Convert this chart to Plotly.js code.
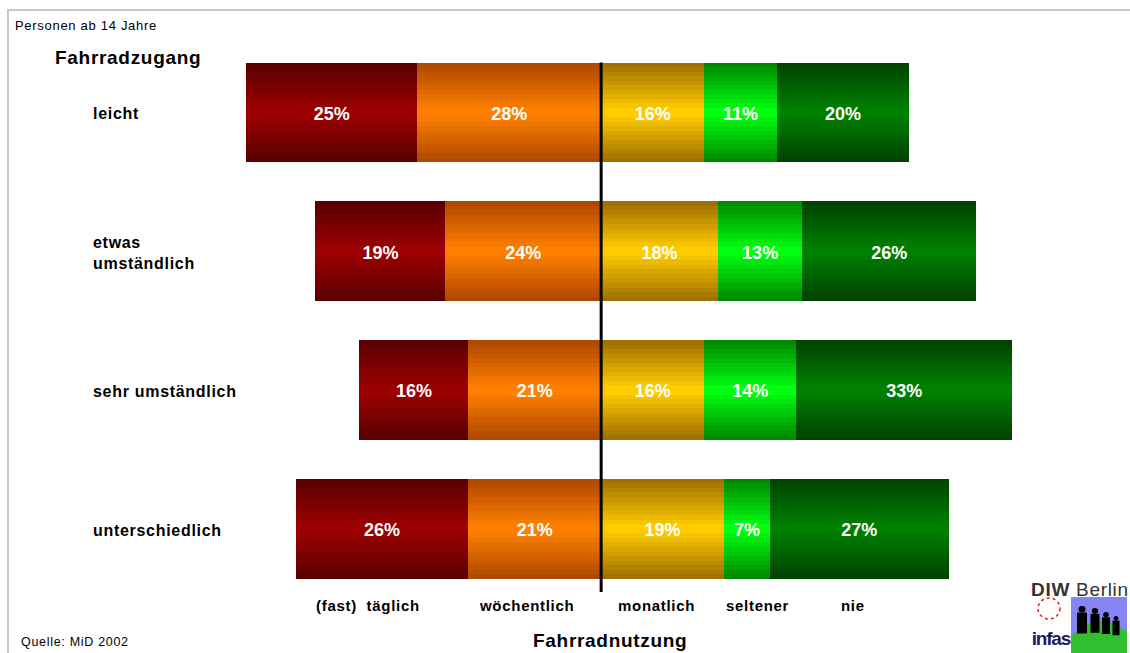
<!DOCTYPE html>
<html>
<head>
<meta charset="utf-8">
<script src="https://cdn.plot.ly/plotly-3.0.1.min.js"></script>
<style>
  html, body { margin: 0; padding: 0; background: #fff; }
  #chart { width: 1130px; height: 653px; }
  .annotation-text { letter-spacing: 0.7px; }
  g.annotation[data-index="14"] .annotation-text { letter-spacing: -1.2px; }
</style>
</head>
<body>
<div id="chart"></div>
<script>
// ---------------- data ----------------
const categories = ['leicht', 'etwas<br>umständlich', 'sehr umständlich', 'unterschiedlich'];
const seriesNames = ['(fast)  täglich', 'wöchentlich', 'monatlich', 'seltener', 'nie'];

// bar lengths (percent)
const taeglich     = [26.0, 19.8, 16.6, 26.3];
const woechentlich = [28.0, 23.7, 20.2, 20.2];
const monatlich    = [15.7, 17.8, 15.7, 18.7];
const seltener     = [11.0, 12.8, 14.0, 7.0];
const nie          = [20.2, 26.5, 32.9, 27.2];

// printed labels (percent)
const taeglichLabels     = [25, 19, 16, 26];
const woechentlichLabels = [28, 24, 21, 21];
const monatlichLabels    = [16, 18, 16, 19];
const seltenerLabels     = [11, 13, 14, 7];
const nieLabels          = [20, 26, 33, 27];

// ---------------- styling ----------------
const W = 1130, H = 653;
const ML = 207, MR = 69, MT = 57, MB = 39;
const PW = W - ML - MR, PH = H - MT - MB;
const P = px => (px - ML) / PW;          // pixel x -> paper x
const Q = py => (H - MB - py) / PH;      // pixel y -> paper y

const edgeColors   = ['#5a0000', '#b04800', '#a07000', '#008a00', '#004400'];
const centerColors = ['#9c0000', '#ff8000', '#ffcc00', '#00ff10', '#008000'];
const BAR_W = 0.72;
const LAYERS = 11;

function hex2rgb(h) { return [1, 3, 5].map(i => parseInt(h.substr(i, 2), 16)); }
function mix(a, b, t) {
  const A = hex2rgb(a), B = hex2rgb(b);
  return 'rgb(' + A.map((v, i) => Math.round(v + (B[i] - v) * t)).join(',') + ')';
}

// ---------------- geometry from data ----------------
const values = [taeglich, woechentlich, monatlich, seltener, nie];
const labels = [taeglichLabels, woechentlichLabels, monatlichLabels, seltenerLabels, nieLabels];
const yIdx = categories.map((c, i) => i);

const bases = [
  taeglich.map((v, i) => -(v + woechentlich[i])),
  woechentlich.map(v => -v),
  monatlich.map(() => 0),
  monatlich.slice(),
  monatlich.map((v, i) => v + seltener[i])
];

const traces = [];
values.forEach((vals, s) => {
  for (let k = 0; k < LAYERS; k++) {
    traces.push({
      type: 'bar',
      orientation: 'h',
      y: yIdx,
      x: vals,
      base: bases[s],
      width: BAR_W * (1 - k / LAYERS),
      marker: { color: mix(edgeColors[s], centerColors[s], k / (LAYERS - 1)), line: { width: 0 } },
      hoverinfo: 'skip',
      showlegend: false
    });
  }
});

// percentage labels
const tx = [], ty = [], tt = [];
values.forEach((vals, s) => {
  vals.forEach((v, i) => {
    tx.push(bases[s][i] + v / 2);
    ty.push(i + 0.02);
    tt.push(labels[s][i] + '%');
  });
});
traces.push({
  type: 'scatter', mode: 'text', x: tx, y: ty, text: tt,
  textposition: 'middle center',
  textfont: { family: 'Liberation Sans, Arial, sans-serif', size: 18, color: '#ffffff', weight: 'bold' },
  hoverinfo: 'skip', showlegend: false, cliponaxis: false
});

// ---------------- annotations ----------------
const font = (size, bold, color) => ({
  family: 'Liberation Sans, Arial, sans-serif', size: size, color: color || '#000',
  weight: bold ? 'bold' : 'normal'
});
const annotations = [];
annotations.push({ text: 'Personen ab 14 Jahre', xref: 'paper', yref: 'paper', x: P(13), y: Q(25),
  xanchor: 'left', yanchor: 'middle', showarrow: false, font: font(13) });
annotations.push({ text: 'Fahrradzugang', xref: 'paper', yref: 'paper', x: P(53), y: Q(57),
  xanchor: 'left', yanchor: 'middle', showarrow: false, font: font(19, true) });
categories.forEach((c, i) => {
  annotations.push({ text: c, xref: 'paper', yref: 'y', x: P(91), y: i + 0.01,
    xanchor: 'left', yanchor: 'middle', align: 'left', showarrow: false, font: font(16, true) });
});
const legendPx = [368, 526, 656, 757, 853];
seriesNames.forEach((n, s) => {
  annotations.push({ text: n, xref: 'paper', yref: 'paper', x: P(legendPx[s]), y: Q(605),
    xanchor: 'center', yanchor: 'middle', showarrow: false, font: font(15, true) });
});
annotations.push({ text: 'Fahrradnutzung', xref: 'paper', yref: 'paper', x: P(610), y: Q(640),
  xanchor: 'center', yanchor: 'middle', showarrow: false, font: font(19, true) });
annotations.push({ text: 'Quelle: MiD 2002', xref: 'paper', yref: 'paper', x: P(19), y: Q(642),
  xanchor: 'left', yanchor: 'middle', showarrow: false, font: font(12.5) });
// logo texts
annotations.push({ text: '<b>DIW</b> Berlin', xref: 'paper', yref: 'paper', x: P(1080), y: Q(589),
  xanchor: 'center', yanchor: 'middle', showarrow: false,
  font: { family: 'Liberation Sans, Arial, sans-serif', size: 19, color: '#333333' } });
annotations.push({ text: 'infas', xref: 'paper', yref: 'paper', x: P(1051), y: Q(638),
  xanchor: 'center', yanchor: 'middle', showarrow: false,
  font: { family: 'Liberation Sans, Arial, sans-serif', size: 19, color: '#1c1c5c', weight: 'bold' } });

// ---------------- shapes ----------------
const shapes = [];
shapes.push({ type: 'rect', xref: 'paper', yref: 'paper', x0: P(8), x1: P(1145), y0: Q(10), y1: Q(700),
  line: { color: '#c8c8c8', width: 2 }, fillcolor: 'rgba(0,0,0,0)', layer: 'below' });
shapes.push({ type: 'line', xref: 'x', yref: 'y', x0: 0, x1: 0, y0: -BAR_W / 2, y1: 3.455,
  line: { color: '#000', width: 3 } });
// logo picture
shapes.push({ type: 'rect', xref: 'paper', yref: 'paper', x0: P(1071), x1: P(1127), y0: Q(597), y1: Q(653),
  line: { width: 0 }, fillcolor: '#8585f5' });
shapes.push({ type: 'path', xref: 'paper', yref: 'paper',
  path: 'M' + P(1071) + ',' + Q(653) + ' L' + P(1071) + ',' + Q(636) + ' Q' + P(1099) + ',' + Q(608) + ' ' + P(1127) + ',' + Q(632) + ' L' + P(1127) + ',' + Q(653) + ' Z',
  line: { width: 0 }, fillcolor: '#2fbf2f' });
[[1082, 606, 5], [1095, 608, 4.5], [1106, 612, 4], [1116, 616, 3.5]].forEach(f => {
  const [cx, top, r] = f;
  shapes.push({ type: 'circle', xref: 'paper', yref: 'paper', x0: P(cx - r * 0.7), x1: P(cx + r * 0.7), y0: Q(top), y1: Q(top + r * 1.3),
    line: { width: 0 }, fillcolor: '#000' });
  shapes.push({ type: 'rect', xref: 'paper', yref: 'paper', x0: P(cx - r), x1: P(cx + r), y0: Q(top + r * 1.3), y1: Q(top + r * 5.5),
    line: { width: 0 }, fillcolor: '#000' });
});
shapes.push({ type: 'circle', xref: 'paper', yref: 'paper', x0: P(1038), x1: P(1060), y0: Q(598), y1: Q(619),
  line: { color: '#e02020', width: 1.5, dash: 'dot' }, fillcolor: 'rgba(0,0,0,0)' });

const layout = {
  width: W, height: H,
  margin: { l: ML, r: MR, t: MT, b: MB, pad: 0 },
  paper_bgcolor: '#ffffff', plot_bgcolor: '#ffffff',
  barmode: 'overlay',
  bargap: 0,
  showlegend: false,
  xaxis: { range: [-60, 70], visible: false, fixedrange: true },
  yaxis: { range: [3.614, -0.4], visible: false, fixedrange: true },
  annotations: annotations,
  shapes: shapes
};

Plotly.newPlot('chart', traces, layout, { displayModeBar: false, staticPlot: true });
</script>
</body>
</html>
